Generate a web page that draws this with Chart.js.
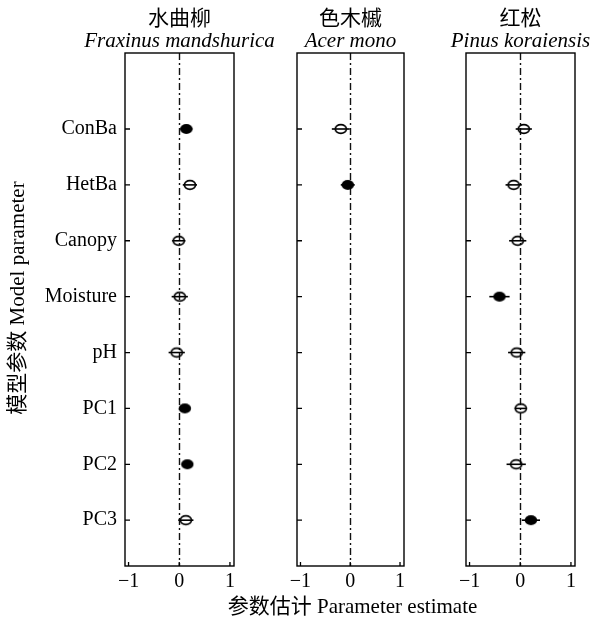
<!DOCTYPE html>
<html>
<head>
<meta charset="utf-8">
<script src="https://cdn.jsdelivr.net/npm/chart.js@4.4.1/dist/chart.umd.min.js"></script>
<style>
html, body { margin: 0; padding: 0; background: #fff; }
#wrap { position: relative; width: 596px; height: 621px; }
#wrap canvas { position: absolute; left: 0; top: 0; }
</style>
</head>
<body>
<div id="wrap">
    <canvas id="c1" width="596" height="621"></canvas>
    <canvas id="c2" width="596" height="621"></canvas>
    <canvas id="c3" width="596" height="621"></canvas>
</div>
<script>
const categories = ['ConBa', 'HetBa', 'Canopy', 'Moisture', 'pH', 'PC1', 'PC2', 'PC3'];
const xTicks = [-1, 0, 1];
const xTickLabels = ['\u22121', '0', '1'];

// 水曲柳 Fraxinus mandshurica
const fraxinusEst = [0.14, 0.21, -0.01, 0.01, -0.05, 0.11, 0.16, 0.13];
const fraxinusErr = [0.12, 0.14, 0.13, 0.16, 0.16, 0.09, 0.11, 0.15];
const fraxinusSig = [true, false, false, false, false, true, true, false];

// 色木槭 Acer mono (only two parameters)
const acerEst = [-0.19, -0.05, null, null, null, null, null, null];
const acerErr = [0.18, 0.14, null, null, null, null, null, null];
const acerSig = [false, true, false, false, false, false, false, false];

// 红松 Pinus koraiensis
const pinusEst = [0.07, -0.13, -0.05, -0.41, -0.07, 0.01, -0.08, 0.21];
const pinusErr = [0.16, 0.16, 0.17, 0.20, 0.17, 0.12, 0.19, 0.18];
const pinusSig = [false, false, false, true, false, false, false, true];

const FONT = '"Liberation Serif", "Times New Roman", "Noto Sans CJK SC", serif';

function marker(filled) {
    const c = document.createElement('canvas');
    c.width = 16;
    c.height = 14;
    const g = c.getContext('2d');
    g.beginPath();
    if (filled) {
        g.ellipse(8, 7, 6.2, 5, 0, 0, Math.PI * 2);
        g.fillStyle = '#000';
        g.fill();
    } else {
        g.ellipse(8, 7, 5.6, 4.4, 0, 0, Math.PI * 2);
        g.lineWidth = 1.6;
        g.strokeStyle = '#000';
        g.stroke();
    }
    return c;
}
const FILLED = marker(true);
const OPEN = marker(false);

function decor(panel) {
    return {
        id: 'decor',
        beforeDatasetsDraw(chart) {
            const { ctx, chartArea: a, scales: { x, y } } = chart;
            ctx.save();
            const x0 = Math.round(x.getPixelForValue(0)) + 0.5;
            ctx.strokeStyle = '#111';
            ctx.lineWidth = 1.4;
            ctx.setLineDash([7, 3, 2, 3]);
            ctx.beginPath();
            ctx.moveTo(x0, a.top);
            ctx.lineTo(x0, a.bottom);
            ctx.stroke();
            ctx.setLineDash([]);

            ctx.strokeStyle = '#000';
            ctx.lineWidth = 1.6;
            panel.est.forEach((v, i) => {
                if (v == null) return;
                const py = y.getPixelForValue(i);
                ctx.beginPath();
                ctx.moveTo(x.getPixelForValue(v - panel.err[i]), py);
                ctx.lineTo(x.getPixelForValue(v + panel.err[i]), py);
                ctx.stroke();
            });
            ctx.restore();
        },
        afterDraw(chart) {
            const { ctx, chartArea: a, scales: { x, y } } = chart;
            ctx.save();
            ctx.strokeStyle = '#000';
            ctx.lineWidth = 1.4;
            ctx.strokeRect(a.left, a.top, a.right - a.left, a.bottom - a.top);

            // inward ticks
            ctx.lineWidth = 1.3;
            ctx.beginPath();
            categories.forEach((c, i) => {
                const py = y.getPixelForValue(i);
                ctx.moveTo(a.left, py);
                ctx.lineTo(a.left + 5, py);
            });
            xTicks.forEach((v) => {
                const px = x.getPixelForValue(v);
                ctx.moveTo(px, a.bottom);
                ctx.lineTo(px, a.bottom - 4);
            });
            ctx.stroke();

            // species names
            const cx = (a.left + a.right) / 2;
            ctx.fillStyle = '#000';
            ctx.textAlign = 'center';
            ctx.textBaseline = 'middle';
            ctx.font = '21px ' + FONT;
            ctx.fillText(panel.chinese, cx, 19);
            ctx.font = 'italic 21px ' + FONT;
            ctx.fillText(panel.latin, cx, 41);

            ctx.font = '21px ' + FONT;
            if (panel.yTitle) {
                ctx.translate(18, 298);
                ctx.rotate(-Math.PI / 2);
                ctx.fillText(panel.yTitle, 0, 0);
            }
            if (panel.xTitle) {
                ctx.fillText(panel.xTitle, cx + 2, 607);
            }
            ctx.restore();
        },
    };
}

function makePanel(id, panel, padLeft, padRight, showY) {
    const y = {
        type: 'linear',
        reverse: true,
        min: -1.36,
        max: 7.82,
        display: showY,
        afterBuildTicks: (s) => { s.ticks = categories.map((c, i) => ({ value: i })); },
        grid: { display: false, drawTicks: false },
        border: { display: false },
        ticks: {
            padding: 8,
            color: '#000',
            font: { family: FONT, size: 20 },
            callback: (v) => categories[v],
        },
    };
    if (showY) y.afterFit = (s) => { s.width = 125; };

    return new Chart(document.getElementById(id), {
        type: 'scatter',
        data: {
            datasets: [{
                data: panel.est.map((v, i) => (v == null ? null : { x: v, y: i })).filter(Boolean),
                pointStyle: (c) => (panel.sig[c.raw.y] ? FILLED : OPEN),
                pointRadius: 6,
                pointHoverRadius: 6,
            }],
        },
        options: {
            responsive: false,
            animation: false,
            events: [],
            layout: { padding: { top: 53, bottom: 0, left: padLeft, right: padRight } },
            plugins: { legend: { display: false }, tooltip: { enabled: false } },
            scales: {
                x: {
                    type: 'linear',
                    min: -1.07,
                    max: 1.08,
                    afterBuildTicks: (s) => { s.ticks = xTicks.map((v) => ({ value: v })); },
                    afterFit: (s) => { s.height = 55; },
                    grid: { display: false, drawTicks: false },
                    border: { display: false },
                    ticks: {
                        padding: 4,
                        autoSkip: false,
                        maxRotation: 0,
                        color: '#000',
                        font: { family: FONT, size: 20 },
                        callback: (v) => xTickLabels[xTicks.indexOf(v)],
                    },
                },
                y,
            },
        },
        plugins: [decor(panel)],
    });
}

makePanel('c1', {
    est: fraxinusEst, err: fraxinusErr, sig: fraxinusSig,
    chinese: '水曲柳', latin: 'Fraxinus mandshurica',
    yTitle: '模型参数 Model parameter',
}, 0, 362, true);

makePanel('c2', {
    est: acerEst, err: acerErr, sig: acerSig,
    chinese: '色木槭', latin: 'Acer mono',
    xTitle: '参数估计 Parameter estimate',
}, 297, 192, false);

makePanel('c3', {
    est: pinusEst, err: pinusErr, sig: pinusSig,
    chinese: '红松', latin: 'Pinus koraiensis',
}, 466, 21, false);
</script>
</body>
</html>
